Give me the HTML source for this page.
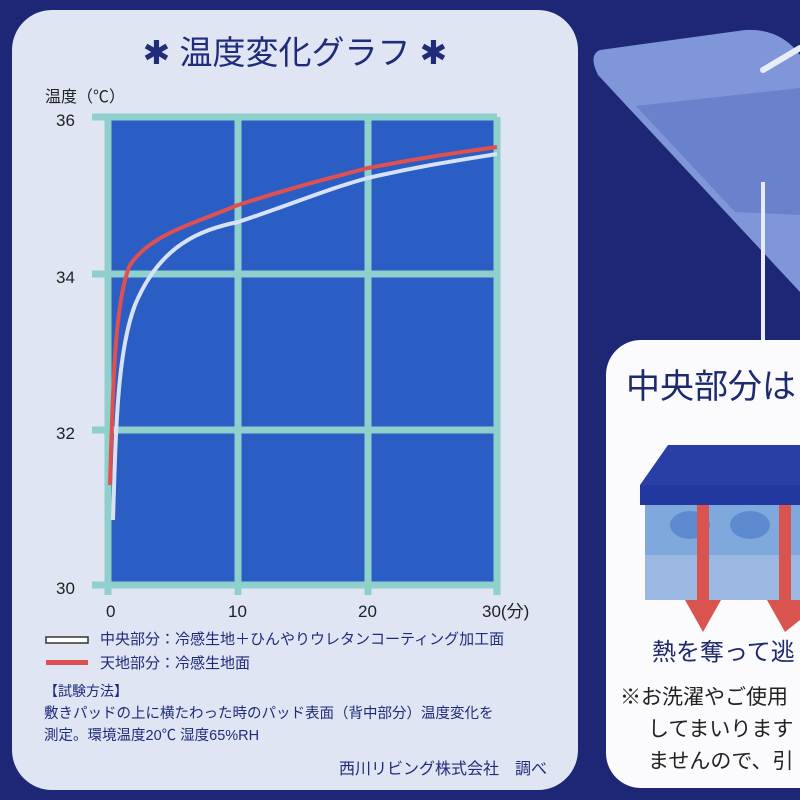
<!DOCTYPE html>
<html><head><meta charset="utf-8"><style>
html,body{margin:0;padding:0;background:#1d2775;}
svg{display:block}
text{font-family:"Liberation Sans","Noto Sans CJK JP",sans-serif;}
</style></head><body>
<svg width="800" height="800" viewBox="0 0 800 800" xmlns="http://www.w3.org/2000/svg">
<rect width="800" height="800" fill="#1d2775"/>
<!-- right top translucent shape -->
<path d="M600,50 Q588,55 598,75 L800,292 L800,55 Q780,28 745,30 Z" fill="#7f96d8"/>
<path d="M636,106 L800,88 L800,215 L735,212 Z" fill="#6a82cc"/>
<line x1="763" y1="70" x2="800" y2="48" stroke="#e8ecf6" stroke-width="6" stroke-linecap="round"/>
<line x1="763" y1="182" x2="763" y2="342" stroke="#e8ecf6" stroke-width="4"/>
<!-- right white card -->
<rect x="606" y="340" width="240" height="448" rx="35" fill="#fbfbfd"/>
<text x="626" y="398" font-size="34" fill="#1e2a6e" font-family="Liberation Serif,Noto Serif CJK SC,serif">中央部分は</text>
<polygon points="668,445 800,445 800,485 640,485" fill="#2a3fa6"/>
<rect x="640" y="485" width="160" height="20" fill="#2238a0"/>
<rect x="645" y="505" width="155" height="95" fill="#7fa8dc"/>
<rect x="645" y="555" width="155" height="45" fill="#9ab8e2"/>
<ellipse cx="690" cy="525" rx="20" ry="14" fill="#5e8bd0"/>
<ellipse cx="750" cy="525" rx="20" ry="14" fill="#5e8bd0"/>
<rect x="697" y="505" width="12" height="100" fill="#d9534f"/>
<polygon points="685,600 721,600 703,632" fill="#d9534f"/>
<rect x="779" y="505" width="12" height="100" fill="#d9534f"/>
<polygon points="767,600 800,600 800,620 785,632" fill="#d9534f"/>
<text x="652" y="660" font-size="24" fill="#1e2a6e">熱を奪って逃</text>
<text x="620" y="704" font-size="21" fill="#222">※お洗濯やご使用</text>
<text x="648" y="736" font-size="21" fill="#222">してまいります</text>
<text x="648" y="768" font-size="21" fill="#222">ませんので、引</text>
<!-- left card -->
<rect x="12" y="10" width="566" height="780" rx="40" fill="#dfe5f3"/>
<text x="295" y="64" font-size="33" fill="#1f2c7a" text-anchor="middle">✱ 温度変化グラフ ✱</text>
<text x="45" y="102" font-size="16" fill="#222">温度（℃）</text>
<!-- plot -->
<rect x="108" y="117" width="389" height="468" fill="#2a5ec4"/>
<g stroke="#8fd0cc" stroke-width="7">
<line x1="92" y1="117" x2="497" y2="117"/>
<line x1="92" y1="274" x2="497" y2="274"/>
<line x1="92" y1="430" x2="497" y2="430"/>
<line x1="92" y1="585" x2="497" y2="585"/>
<line x1="108" y1="117" x2="108" y2="595"/>
<line x1="238" y1="117" x2="238" y2="595"/>
<line x1="368" y1="117" x2="368" y2="595"/>
<line x1="497" y1="117" x2="497" y2="595"/>
</g>
<g font-size="17" fill="#222">
<text x="56" y="126">36</text><text x="56" y="283">34</text><text x="56" y="439">32</text><text x="56" y="594">30</text>
<text x="106" y="617">0</text><text x="228" y="617">10</text><text x="358" y="617">20</text><text x="482" y="617">30(分)</text>
</g>
<path d="M113,520 C116,420 118,350 135,305 C160,245 200,230 238,222 C290,205 330,188 368,178 C420,166 460,160 497,154" fill="none" stroke="#d8e2f6" stroke-width="4"/>
<path d="M110,485 C113,380 115,300 130,265 C150,235 190,225 238,205 C290,188 330,178 368,168 C420,158 460,152 497,147" fill="none" stroke="#e05050" stroke-width="4"/>
<!-- legend -->
<rect x="46" y="637" width="42" height="6" fill="#fff" stroke="#333" stroke-width="1.5"/>
<rect x="46" y="660" width="42" height="5" fill="#e05050"/>
<text x="100" y="644" font-size="15" fill="#1f2c7a">中央部分：冷感生地＋ひんやりウレタンコーティング加工面</text>
<text x="100" y="668" font-size="15" fill="#1f2c7a">天地部分：冷感生地面</text>
<text x="44" y="696" font-size="14" fill="#1f2c7a">【試験方法】</text>
<text x="44" y="718" font-size="14.5" fill="#1f2c7a">敷きパッドの上に横たわった時のパッド表面（背中部分）温度変化を</text>
<text x="44" y="740" font-size="14.5" fill="#1f2c7a">測定。環境温度20℃ 湿度65%RH</text>
<text x="547" y="774" font-size="16" fill="#1f2c7a" text-anchor="end">西川リビング株式会社　調べ</text>
</svg>
</body></html>
